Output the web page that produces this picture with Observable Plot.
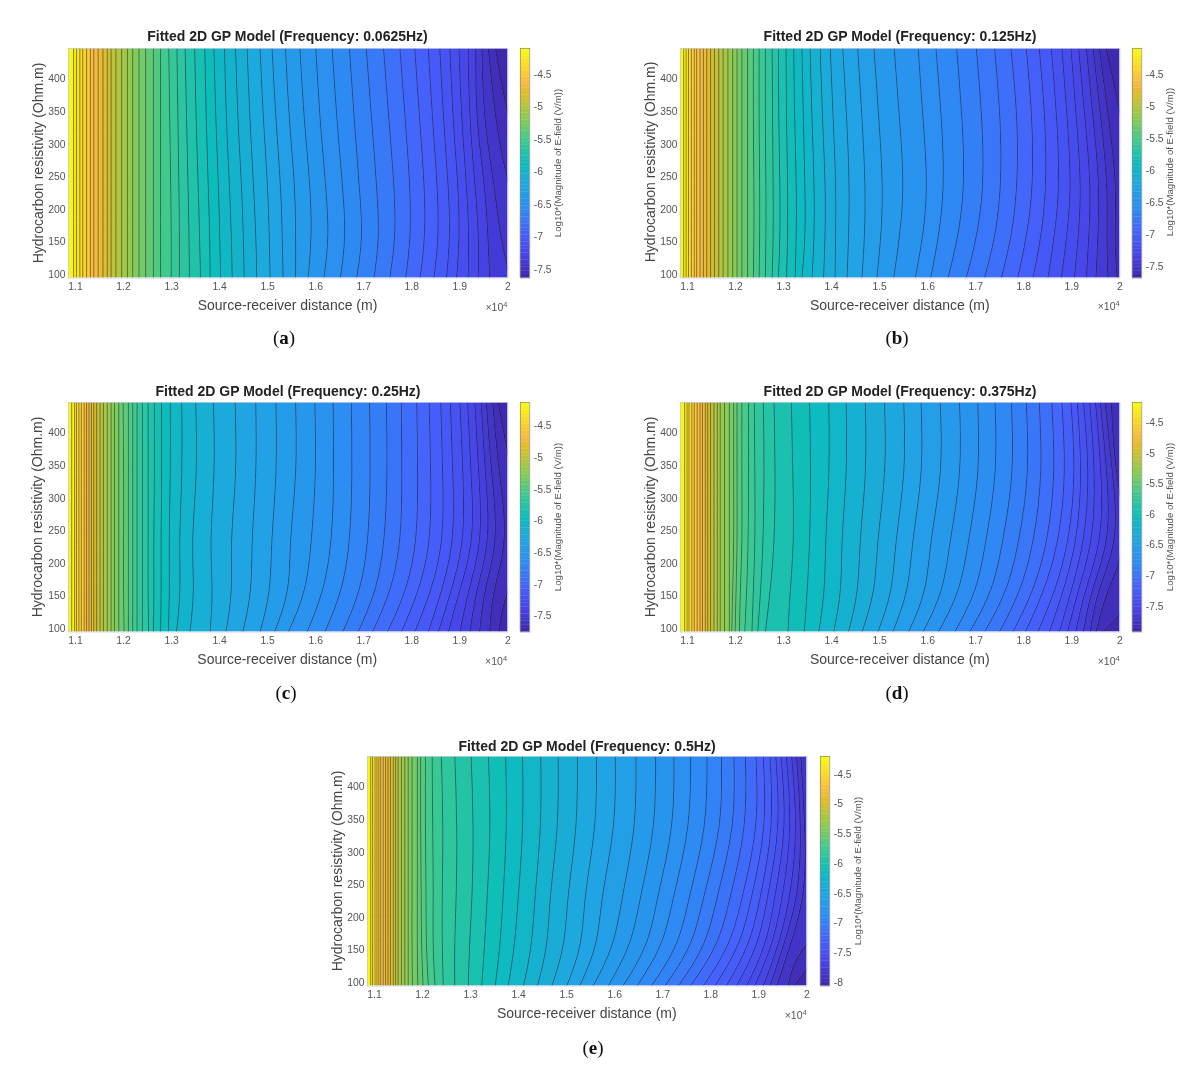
<!DOCTYPE html>
<html><head><meta charset="utf-8">
<script src="https://cdn.jsdelivr.net/npm/d3@7"></script>
<script src="https://cdn.jsdelivr.net/npm/@observablehq/plot@0.6"></script>
<style>
html,body{margin:0;padding:0;background:#fff;}
#page{position:relative;width:1200px;height:1076px;overflow:hidden;font-family:"Liberation Sans",Arial,sans-serif;filter:blur(0.5px);}
#page svg{position:absolute;overflow:visible;background:transparent;}
.t{position:absolute;white-space:nowrap;}
.title{font-weight:bold;font-size:14px;color:#222;transform:translate(-50%,-50%);}
.xl{font-size:14px;color:#444;transform:translate(-50%,-50%);}
.yl{font-size:14px;color:#444;transform:translate(-50%,-50%) rotate(-90deg);}
.cl{font-size:9.6px;color:#555;transform:translate(-50%,-50%) rotate(-90deg);}
.ex{font-size:10.5px;color:#555;transform:translate(-100%,-50%);}
.ex sup{font-size:7.5px;vertical-align:4px;line-height:0;}
.cap{font-family:"Liberation Serif",serif;font-size:19px;color:#111;transform:translate(-50%,-50%);}
</style></head><body><div id="page"></div>
<script>
// Resistivity rows (Ohm.m) at which each contour's distance was read, top to bottom
const rows = [447, 340, 240, 160, 95];
// Tick labels
const xTicks = [1100,1200,1300,1400,1500,1600,1700,1800,1900,2000]; // distance in 10^4 m x 1000
const yTicks = [100,150,200,250,300,350,400];
const xDomain = [1085.4, 2000], yDomain = [95, 447];
// Parula palette
const parula = ["#3e26a8","#4744e8","#4562fc","#2d8cf3","#20a5e3","#0bbdbc","#3fca8e","#8fcb4e","#dcbd29","#f8ba3d","#fccf2d","#f9fb0e"];
const parulaAt = [0,.1,.2,.3,.4,.5,.6,.7,.8,.85,.9,1];

// Panel (a) contours
const aLeft = [1096,1102,1109,1115,1123,1131,1138,1147,1157,1166,1174,1184,1196,1208,1219,1232,1246,1262,1277];
const a447 = [1294,1311,1328,1348,1369,1388,1410,1433,1457,1484,1509,1537,1567,1600,1634,1670,1705,1741,1775,1806,1834,1858,1879,1898,1917,1933,1946,1959,1974];
const a340 = [1296,1313,1331,1351,1372,1392,1414,1438,1463,1491,1517,1545,1576,1609,1644,1680,1716,1752,1786,1816,1843,1866,1886,1904,1921,1936,1952,1975,2003];
const a240 = [1298,1315,1334,1355,1376,1397,1420,1445,1470,1499,1526,1555,1587,1620,1655,1690,1726,1762,1795,1825,1852,1875,1895,1913,1931,1950,1970,2002,2050];
const a160 = [1299,1316,1336,1358,1379,1400,1424,1449,1475,1503,1530,1558,1590,1625,1660,1695,1730,1764,1796,1826,1854,1878,1898,1918,1938,1958,1985,2040,2090];
const a95  = [1299,1316,1337,1360,1380,1402,1426,1451,1477,1505,1532,1558,1584,1617,1651,1685,1721,1754,1787,1817,1846,1872,1893,1917,1938,1962,2005,2050,2100];

// Panel (b) contours
const bLeft = [1092,1097,1102,1108,1114,1119,1126,1133,1140,1148,1156,1165,1174,1184,1194];
const b447 = [1203,1213,1225,1237,1249,1262,1276,1289,1305,1321,1338,1355,1376,1397,1423,1454,1488,1530,1580,1617,1660,1701,1739,1773,1805,1832,1857,1879,1898,1914,1930,1944,1957,1971];
const b340 = [1203,1213,1225,1237,1249,1262,1277,1290,1306,1323,1341,1359,1381,1403,1431,1463,1498,1541,1590,1628,1671,1712,1750,1785,1816,1843,1868,1890,1909,1927,1944,1960,1976,2003];
const b240 = [1203,1213,1225,1238,1250,1263,1278,1292,1308,1326,1344,1363,1386,1408,1436,1469,1505,1548,1597,1632,1674,1714,1751,1785,1817,1845,1872,1896,1917,1937,1955,1972,1990,2030];
const b160 = [1203,1213,1225,1238,1250,1263,1278,1292,1308,1326,1344,1363,1386,1408,1435,1468,1502,1541,1589,1622,1662,1701,1739,1773,1805,1835,1863,1889,1913,1935,1954,1973,1990,2045];
const b95  = [1203,1213,1225,1237,1249,1262,1276,1289,1306,1324,1338,1359,1383,1407,1432,1463,1494,1529,1574,1606,1642,1680,1718,1753,1787,1819,1850,1878,1905,1930,1950,1975,1994,2060];

// Panel (c) contours
const cLeft = [1092,1098,1102,1107,1112,1118,1123,1128,1133,1138,1144,1151,1158,1166,1174,1181];
const c447 = [1190,1199,1210,1219,1228,1239,1251,1264,1279,1297,1321,1350,1387,1432,1475,1517,1558,1598,1636,1674,1712,1747,1778,1810,1836,1860,1880,1900,1916,1931,1944,1955,1968,1980];
const c340 = [1190,1200,1210,1219,1228,1239,1251,1264,1279,1297,1321,1351,1388,1433,1475,1517,1558,1599,1637,1675,1713,1748,1779,1812,1839,1864,1885,1906,1923,1939,1953,1966,1982,2010];
const c240 = [1190,1200,1210,1219,1228,1239,1251,1263,1278,1295,1317,1344,1382,1425,1468,1509,1548,1591,1632,1670,1708,1742,1775,1808,1836,1862,1884,1905,1924,1941,1957,1973,1992,2040];
const c160 = [1190,1200,1210,1219,1228,1239,1251,1263,1278,1295,1317,1345,1384,1424,1464,1503,1541,1576,1614,1652,1690,1723,1754,1786,1813,1839,1862,1882,1900,1919,1936,1953,1972,2002];
const c95  = [1190,1201,1210,1219,1228,1239,1252,1262,1277,1293,1310,1338,1380,1413,1448,1484,1514,1543,1582,1619,1656,1688,1718,1749,1778,1806,1834,1855,1876,1900,1921,1941,1962,1981];

// Panel (d) contours
const dLeft = [1094,1099,1103,1109,1114,1120,1126,1131,1137,1142,1148,1155,1162,1168,1177,1187];
const d447 = [1196,1203,1213,1227,1239,1258,1280,1316,1354,1394,1430,1470,1510,1550,1586,1626,1666,1704,1740,1774,1805,1832,1858,1879,1898,1911,1924,1937,1949,1959,1969,1982,2100];
const d340 = [1196,1203,1213,1227,1240,1259,1282,1319,1356,1394,1430,1470,1510,1550,1586,1626,1666,1704,1740,1775,1807,1835,1862,1884,1904,1918,1933,1946,1960,1972,1984,1993,2100];
const d240 = [1196,1203,1213,1226,1240,1257,1280,1320,1354,1388,1422,1460,1497,1535,1570,1608,1648,1686,1722,1757,1790,1820,1848,1871,1892,1908,1924,1940,1957,1972,1988,2008,2100];
const d160 = [1194,1201,1210,1223,1237,1252,1272,1314,1349,1384,1418,1453,1487,1523,1556,1593,1628,1663,1698,1731,1762,1791,1818,1841,1864,1882,1899,1914,1929,1943,1957,1976,2045];
const d95  = [1192,1199,1208,1219,1234,1246,1262,1309,1343,1373,1404,1435,1463,1496,1527,1560,1590,1622,1656,1687,1718,1749,1777,1803,1829,1853,1874,1891,1908,1924,1938,1950,1964];

// Panel (e) contours
const eLeft = [1092,1096,1101,1105,1109,1113,1118,1123,1128,1133,1139,1144,1149,1156,1163,1170];
const e447 = [1178,1189,1196,1206,1220,1239,1267,1301,1337,1373,1408,1446,1482,1522,1562,1601,1644,1685,1723,1758,1792,1822,1848,1872,1894,1909,1923,1935,1946,1957,1968,1978,1987,2100,2100];
const e340 = [1178,1189,1196,1206,1221,1242,1271,1305,1340,1374,1408,1445,1480,1519,1558,1597,1640,1680,1718,1752,1786,1817,1844,1869,1893,1910,1925,1939,1952,1964,1976,1986,1995,2100,2100];
const e240 = [1178,1189,1197,1207,1222,1241,1270,1303,1335,1368,1400,1435,1467,1504,1540,1576,1618,1656,1692,1725,1758,1788,1816,1843,1868,1887,1905,1920,1935,1950,1965,1979,1992,2100,2100];
const e160 = [1178,1189,1198,1208,1222,1241,1267,1298,1329,1361,1391,1426,1458,1493,1528,1560,1595,1630,1665,1696,1728,1757,1785,1811,1836,1857,1877,1895,1912,1926,1940,1952,1966,2001,2040];
const e95  = [1179,1190,1201,1212,1226,1243,1267,1295,1323,1351,1378,1410,1439,1469,1500,1527,1555,1586,1617,1646,1676,1704,1732,1757,1784,1808,1832,1853,1874,1891,1909,1923,1937,1961,1973];

const panels = [
 {title:"Fitted 2D GP Model (Frequency: 0.0625Hz)",cap:"a",left:68,top:48,cb:520,tx:287.5,ty:36,capx:284,capy:338,min:-7.63,max:-4.1,cbTicks:[-4.5,-5,-5.5,-6,-6.5,-7,-7.5],l:aLeft,r:[a447,a340,a240,a160,a95]},
 {title:"Fitted 2D GP Model (Frequency: 0.125Hz)",cap:"b",left:680.3,top:47.5,cb:1132,tx:900,ty:36,capx:897,capy:338,min:-7.67,max:-4.095,cbTicks:[-4.5,-5,-5.5,-6,-6.5,-7,-7.5],l:bLeft,r:[b447,b340,b240,b160,b95]},
 {title:"Fitted 2D GP Model (Frequency: 0.25Hz)",cap:"c",left:67.7,top:402,cb:520,tx:288,ty:391,capx:286,capy:693,min:-7.75,max:-4.13,cbTicks:[-4.5,-5,-5.5,-6,-6.5,-7,-7.5],l:cLeft,r:[c447,c340,c240,c160,c95]},
 {title:"Fitted 2D GP Model (Frequency: 0.375Hz)",cap:"d",left:680.3,top:402,cb:1132,tx:900,ty:391,capx:897,capy:693,min:-7.92,max:-4.17,cbTicks:[-4.5,-5,-5.5,-6,-6.5,-7,-7.5],l:dLeft,r:[d447,d340,d240,d160,d95]},
 {title:"Fitted 2D GP Model (Frequency: 0.5Hz)",cap:"e",left:367.3,top:756,cb:819.7,tx:587,ty:746,capx:593,capy:1048,min:-8.06,max:-4.2,cbTicks:[-4.5,-5,-5.5,-6,-6.5,-7,-7.5,-8],l:eLeft,r:[e447,e340,e240,e160,e95]}
];
const W = 439.4, H = 229.5;
const page = document.getElementById("page");
function place(svg, x, y){ svg.style.left = x+"px"; svg.style.top = y+"px"; page.appendChild(svg); }
function label(cls, x, y, html){ const d=document.createElement("div"); d.className="t "+cls; d.style.left=x+"px"; d.style.top=y+"px"; d.innerHTML=html; page.appendChild(d); }

for (const p of panels){
  const color = {type:"linear", clamp:true, domain:parulaAt.map(f=>p.min+f*(p.max-p.min)), range:parula, interpolate:"rgb"};
  const n = p.l.length + p.r[0].length;
  const step = (p.max-p.min)/(n+1);
  const lines = [], bands = [];
  rows.forEach((y,ri)=>{
    const xs = p.l.concat(p.r[ri]);
    xs.forEach((x,i)=>lines.push({line:i,x,y}));
    for(let i=0;i<=n;i++) bands.push({band:i,y,x1:i===0?1000:xs[i-1],x2:i===n?2300:xs[i],value:p.max-(i+.5)*step});
  });
  const chart = Plot.plot({
    width:W+70+10, height:H+10+40,
    marginLeft:70, marginRight:10, marginTop:10, marginBottom:40,
    style:{fontFamily:'"Liberation Sans",Arial,sans-serif',background:"transparent"},
    x:{domain:xDomain, axis:null}, y:{domain:yDomain, axis:null},
    color,
    marks:[
      Plot.areaX(bands,{x1:"x1",x2:"x2",y:"y",z:"band",fill:"value",stroke:"value",strokeWidth:.4,curve:"natural",clip:true}),
      Plot.line(lines,{x:"x",y:"y",z:"line",stroke:"#10131c",strokeWidth:.65,strokeOpacity:.75,curve:"natural",clip:true}),
      Plot.axisX({ticks:xTicks,tickSize:0,tickPadding:5,fontSize:10.4,color:"#555",label:null,tickFormat:d=>String(d/1000)}),
      Plot.axisY({ticks:yTicks,tickSize:0,tickPadding:3,fontSize:10.4,color:"#555",label:null,tickFormat:String}),
      Plot.frame({stroke:"#c4cbe0",strokeWidth:.8})
    ]
  });
  place(chart, p.left-70, p.top-10);

  const cells = d3.range(64).map(i=>({lo:p.min+i/64*(p.max-p.min),hi:p.min+(i+1)/64*(p.max-p.min),mid:p.min+(i+.5)/64*(p.max-p.min)}));
  const bar = Plot.plot({
    width:9.3+40, height:H+10+10,
    marginLeft:0, marginRight:40, marginTop:10, marginBottom:10,
    style:{fontFamily:'"Liberation Sans",Arial,sans-serif',background:"transparent"},
    x:{domain:[0,1],axis:null}, y:{domain:[p.min,p.max],axis:null},
    color,
    marks:[
      Plot.rect(cells,{x1:0,x2:1,y1:"lo",y2:"hi",fill:"mid",stroke:"mid",strokeWidth:.3}),
      Plot.axisY({anchor:"right",ticks:p.cbTicks,tickSize:0,tickPadding:4,fontSize:10.3,color:"#555",label:null,tickFormat:String}),
      Plot.frame({stroke:"#8a8a8a",strokeWidth:.7})
    ]
  });
  place(bar, p.cb, p.top-10);

  label("title",p.tx,p.ty,p.title);
  label("xl",p.left+219.5,p.top+H+27.5,"Source-receiver distance (m)");
  label("yl",p.left-30.5,p.top+H/2,"Hydrocarbon resistivity (Ohm.m)");
  label("cl",p.cb+37,p.top+H/2,"Log10*(Magnitude of E-field (V/m))");
  label("ex",p.left+W,p.top+H+29,"\u00d710<sup>4</sup>");
  label("cap",p.capx,p.capy,"(<b>"+p.cap+"</b>)");
}
</script></body></html>
